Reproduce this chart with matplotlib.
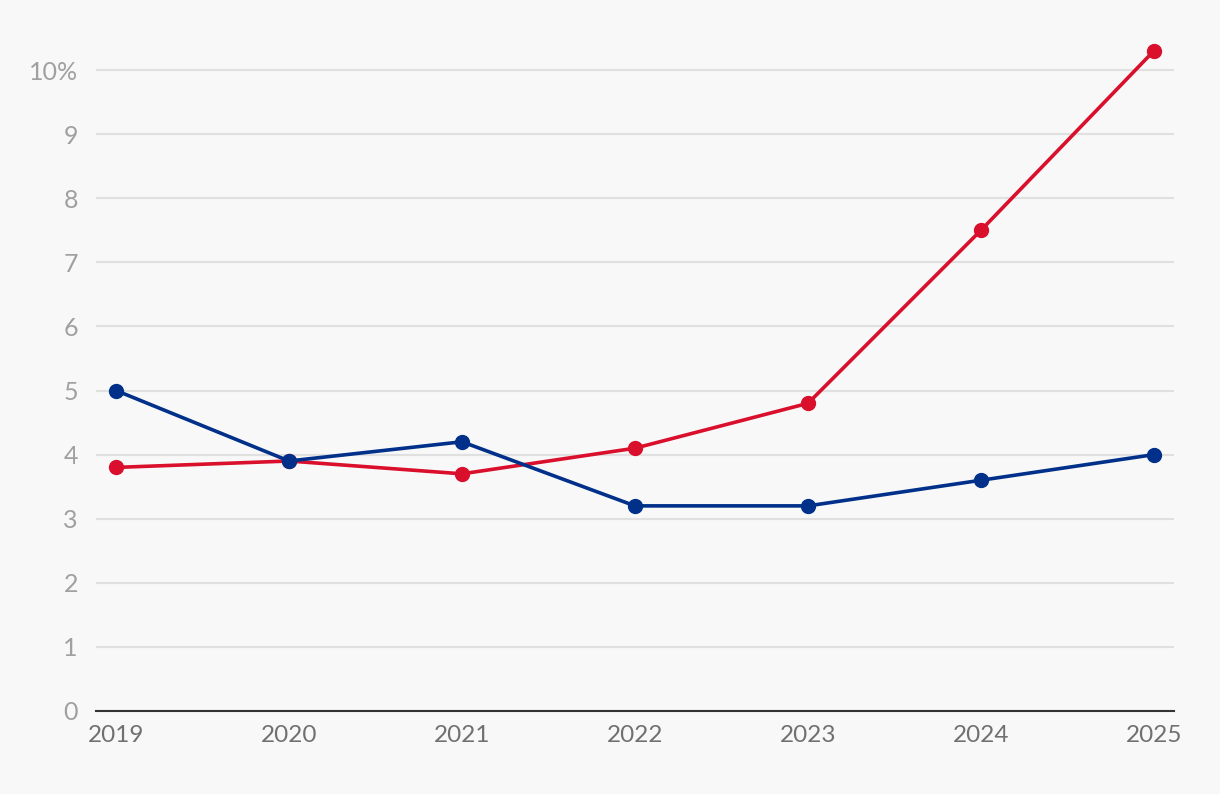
import matplotlib.pyplot as plt

years = [2019, 2020, 2021, 2022, 2023, 2024, 2025]
red_vals = [3.8, 3.9, 3.7, 4.1, 4.8, 7.5, 10.3]
blue_vals = [5.0, 3.9, 4.2, 3.2, 3.2, 3.6, 4.0]
y_ticks = [0, 1, 2, 3, 4, 5, 6, 7, 8, 9, 10]
y_labels = ['0', '1', '2', '3', '4', '5', '6', '7', '8', '9', '10%']

plt.rcParams['font.family'] = ['Lato', 'DejaVu Sans']

bg = '#f8f8f8'
fig = plt.figure(figsize=(12.2, 7.94), dpi=100, facecolor=bg)
ax = fig.add_axes([96 / 1220, 1 - 711 / 794, (1174 - 96) / 1220, (711 - 30) / 794])
ax.set_facecolor(bg)

ax.plot(years, red_vals, color='#d90f2c', lw=2.6, marker='o', ms=10, clip_on=False, zorder=3)
ax.plot(years, blue_vals, color='#00308a', lw=2.6, marker='o', ms=10, clip_on=False, zorder=4)

ax.set_xlim(2019 - 20 / 172.8, 2025 + 20 / 172.8)
ax.set_ylim(0, (711 - 30) / 64.1)
ax.set_yticks(y_ticks)
ax.set_yticklabels(y_labels)
ax.set_xticks(years)

ax.grid(axis='y', color='#e0e0e0', lw=1.5)
ax.set_axisbelow(True)
for s in ['top', 'right', 'left']:
    ax.spines[s].set_visible(False)
ax.spines['bottom'].set_color('#333333')
ax.spines['bottom'].set_linewidth(1.5)
ax.spines['bottom'].set_zorder(5)

ax.tick_params(axis='y', length=0, pad=13, labelsize=18, labelcolor='#a0a0a0')
ax.tick_params(axis='x', length=0, pad=10, labelsize=17.5, labelcolor='#707070')

fig.savefig('out.png', dpi=100, facecolor=bg)
